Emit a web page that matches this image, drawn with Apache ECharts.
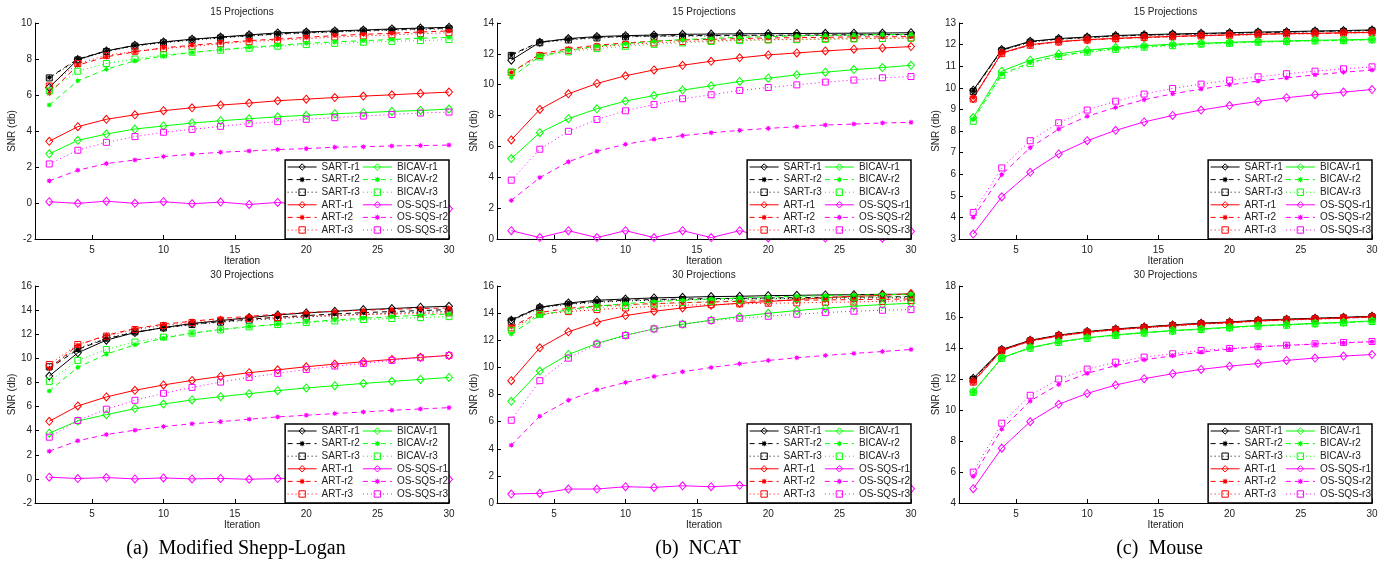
<!DOCTYPE html>
<html><head><meta charset="utf-8">
<script src="https://cdn.jsdelivr.net/npm/echarts@6/dist/echarts.min.js"></script>
<style>html,body{margin:0;padding:0;background:#fff}#c{width:1391px;height:561px}</style>
</head><body><div id="c"></div><script>
// ---------------- DATA ----------------
const iterations = [2,4,6,8,10,12,14,16,18,20,22,24,26,28,30];
const xTicks = [5,10,15,20,25,30];
const methodNames = ['SART','ART','BICAV','OS-SQS'];
const runSuffixes = ['r1','r2','r3'];
const panelTitles = ['15 Projections','15 Projections','15 Projections','30 Projections','30 Projections','30 Projections'];
const captions = ['(a)\u2002Modified Shepp-Logan','(b)\u2002NCAT','(c)\u2002Mouse'];
const yMins = [-2, 0, 3, -2, 0, 4];
const yMaxs = [10, 14, 13, 16, 16, 18];
const yIntervals = [2, 2, 1, 2, 2, 2];

// Modified Shepp-Logan, 15 projections
const SL15_SART_r1 = [6.42,7.97,8.45,8.76,8.95,9.10,9.22,9.34,9.45,9.50,9.56,9.61,9.67,9.72,9.76];
const SL15_SART_r2 = [6.97,8.00,8.45,8.75,8.93,9.08,9.20,9.30,9.40,9.47,9.53,9.58,9.63,9.68,9.72];
const SL15_SART_r3 = [6.95,7.95,8.42,8.72,8.90,9.05,9.17,9.28,9.37,9.44,9.50,9.55,9.60,9.64,9.68];
const SL15_ART_r1 = [3.43,4.24,4.65,4.90,5.13,5.29,5.44,5.55,5.68,5.77,5.86,5.94,6.01,6.09,6.16];
const SL15_ART_r2 = [6.09,7.66,8.12,8.40,8.62,8.76,8.90,9.02,9.11,9.20,9.30,9.37,9.43,9.50,9.56];
const SL15_ART_r3 = [6.50,7.75,8.20,8.43,8.58,8.70,8.85,8.97,9.04,9.13,9.22,9.28,9.34,9.41,9.46];
const SL15_BICAV_r1 = [2.73,3.48,3.83,4.11,4.28,4.44,4.57,4.68,4.79,4.87,4.96,5.02,5.09,5.14,5.22];
const SL15_BICAV_r2 = [5.44,6.79,7.43,7.90,8.17,8.36,8.52,8.65,8.76,8.87,8.95,9.02,9.08,9.15,9.20];
const SL15_BICAV_r3 = [6.23,7.32,7.75,8.00,8.23,8.38,8.49,8.60,8.71,8.80,8.87,8.93,8.98,9.02,9.08];
const SL15_OSSQS_r1 = [0.07,-0.02,0.10,-0.02,0.07,-0.04,0.05,-0.08,0.03,-0.10,0.01,-0.14,-0.03,-0.20,-0.32];
const SL15_OSSQS_r2 = [1.23,1.82,2.19,2.39,2.58,2.71,2.82,2.89,2.97,3.02,3.10,3.13,3.17,3.19,3.22];
const SL15_OSSQS_r3 = [2.17,2.93,3.37,3.69,3.93,4.09,4.26,4.41,4.52,4.65,4.74,4.83,4.92,5.00,5.05];

// NCAT, 15 projections
const NC15_SART_r1 = [11.59,12.75,12.99,13.12,13.18,13.22,13.27,13.28,13.30,13.31,13.32,13.33,13.34,13.35,13.37];
const NC15_SART_r2 = [11.95,12.77,12.95,13.07,13.14,13.16,13.18,13.19,13.20,13.21,13.22,13.23,13.24,13.25,13.26];
const NC15_SART_r3 = [11.90,12.72,12.90,13.03,13.10,13.13,13.15,13.16,13.17,13.18,13.19,13.20,13.21,13.22,13.23];
const NC15_ART_r1 = [6.42,8.40,9.41,10.08,10.58,10.96,11.26,11.52,11.74,11.93,12.06,12.19,12.30,12.38,12.47];
const NC15_ART_r2 = [10.79,11.98,12.34,12.56,12.71,12.82,12.90,12.94,12.99,13.03,13.05,13.07,13.10,13.10,13.12];
const NC15_ART_r3 = [10.80,11.90,12.23,12.45,12.60,12.71,12.80,12.84,12.90,12.92,12.95,12.97,12.99,13.00,13.03];
const NC15_BICAV_r1 = [5.21,6.89,7.80,8.44,8.94,9.30,9.65,9.93,10.21,10.42,10.64,10.81,10.98,11.11,11.26];
const NC15_BICAV_r2 = [10.47,11.85,12.23,12.49,12.66,12.82,12.92,13.00,13.07,13.12,13.16,13.20,13.22,13.25,13.27];
const NC15_BICAV_r3 = [10.83,11.80,12.13,12.34,12.49,12.62,12.71,12.80,12.86,12.90,12.92,12.94,12.97,12.99,13.01];
const NC15_OSSQS_r1 = [0.54,0.09,0.54,0.09,0.54,0.09,0.54,0.09,0.54,0.07,0.52,0.06,0.52,0.05,0.50];
const NC15_OSSQS_r2 = [2.50,3.98,5.00,5.69,6.14,6.46,6.70,6.89,7.04,7.17,7.28,7.39,7.45,7.52,7.56];
const NC15_OSSQS_r3 = [3.81,5.82,6.98,7.75,8.31,8.72,9.09,9.35,9.63,9.82,9.99,10.17,10.30,10.45,10.53];

// Mouse, 15 projections
const MO15_SART_r1 = [9.89,11.77,12.15,12.28,12.35,12.42,12.46,12.49,12.52,12.55,12.58,12.60,12.63,12.65,12.68];
const MO15_SART_r2 = [9.86,11.74,12.13,12.26,12.33,12.40,12.44,12.47,12.50,12.53,12.56,12.58,12.61,12.63,12.66];
const MO15_SART_r3 = [9.83,11.72,12.11,12.24,12.31,12.38,12.42,12.45,12.48,12.51,12.54,12.56,12.59,12.61,12.64];
const MO15_ART_r1 = [9.51,11.62,12.00,12.14,12.23,12.29,12.34,12.38,12.42,12.45,12.48,12.51,12.52,12.55,12.57];
const MO15_ART_r2 = [9.55,11.60,11.98,12.13,12.22,12.28,12.33,12.37,12.41,12.44,12.47,12.50,12.51,12.54,12.56];
const MO15_ART_r3 = [9.48,11.58,11.97,12.12,12.21,12.27,12.32,12.36,12.40,12.43,12.46,12.49,12.50,12.53,12.55];
const MO15_BICAV_r1 = [8.62,10.77,11.28,11.57,11.74,11.86,11.95,12.02,12.06,12.11,12.15,12.17,12.20,12.22,12.25];
const MO15_BICAV_r2 = [8.54,10.63,11.17,11.48,11.68,11.82,11.91,11.98,12.05,12.09,12.12,12.15,12.18,12.20,12.23];
const MO15_BICAV_r3 = [8.45,10.58,11.12,11.45,11.65,11.78,11.88,11.95,12.02,12.06,12.11,12.14,12.17,12.18,12.22];
const MO15_OSSQS_r1 = [3.23,4.95,6.09,6.94,7.55,8.03,8.42,8.72,8.97,9.18,9.37,9.54,9.68,9.80,9.92];
const MO15_OSSQS_r2 = [4.00,5.98,7.23,8.09,8.68,9.09,9.45,9.72,9.94,10.14,10.31,10.46,10.60,10.72,10.82];
const MO15_OSSQS_r3 = [4.23,6.29,7.55,8.38,8.97,9.38,9.71,9.97,10.17,10.35,10.51,10.65,10.77,10.88,10.97];

// Modified Shepp-Logan, 30 projections
const SL30_SART_r1 = [8.53,10.46,11.51,12.14,12.55,12.89,13.13,13.38,13.60,13.77,13.90,14.04,14.13,14.24,14.32];
const SL30_SART_r2 = [9.16,10.74,11.62,12.17,12.53,12.83,13.05,13.24,13.41,13.55,13.68,13.79,13.88,13.96,14.04];
const SL30_SART_r3 = [9.30,10.82,11.67,12.20,12.53,12.80,13.00,13.16,13.30,13.44,13.55,13.66,13.74,13.82,13.90];
const SL30_ART_r1 = [4.78,6.05,6.80,7.35,7.79,8.17,8.50,8.81,9.05,9.30,9.52,9.72,9.91,10.08,10.24];
const SL30_ART_r2 = [9.16,11.09,11.92,12.47,12.83,13.08,13.30,13.49,13.66,13.80,13.90,13.99,14.07,14.13,14.18];
const SL30_ART_r3 = [9.49,11.15,11.84,12.39,12.72,12.97,13.16,13.30,13.38,13.49,13.55,13.63,13.68,13.71,13.77];
const SL30_BICAV_r1 = [3.79,4.81,5.33,5.83,6.21,6.55,6.82,7.07,7.32,7.54,7.73,7.92,8.09,8.25,8.42];
const SL30_BICAV_r2 = [7.29,9.25,10.35,11.12,11.67,12.09,12.39,12.64,12.83,13.02,13.19,13.33,13.46,13.57,13.68];
const SL30_BICAV_r3 = [8.09,9.83,10.74,11.35,11.76,12.09,12.36,12.61,12.80,12.97,13.10,13.22,13.30,13.38,13.46];
const SL30_OSSQS_r1 = [0.14,0.03,0.11,0.00,0.08,0.00,0.04,-0.03,0.03,0.00,-0.02,0.02,-0.04,0.00,-0.04];
const SL30_OSSQS_r2 = [2.30,3.16,3.68,4.04,4.34,4.57,4.75,4.95,5.14,5.28,5.42,5.55,5.69,5.80,5.91];
const SL30_OSSQS_r3 = [3.46,4.84,5.78,6.52,7.10,7.59,8.03,8.42,8.75,9.08,9.36,9.58,9.83,10.05,10.24];

// NCAT, 30 projections
const NC30_SART_r1 = [13.48,14.43,14.75,14.95,15.04,15.12,15.17,15.22,15.24,15.29,15.31,15.34,15.36,15.39,15.39];
const NC30_SART_r2 = [13.55,14.43,14.70,14.85,14.95,15.00,15.04,15.07,15.09,15.12,15.14,15.17,15.19,15.19,15.22];
const NC30_SART_r3 = [13.40,14.38,14.65,14.80,14.90,14.95,15.00,15.02,15.04,15.06,15.08,15.10,15.11,15.12,15.14];
const NC30_ART_r1 = [9.02,11.44,12.62,13.33,13.82,14.14,14.38,14.58,14.73,14.85,15.00,15.14,15.24,15.31,15.44];
const NC30_ART_r2 = [12.99,14.04,14.36,14.53,14.63,14.70,14.77,14.82,14.87,14.92,14.95,14.97,15.00,15.02,15.04];
const NC30_ART_r3 = [12.91,13.92,14.11,14.26,14.38,14.50,14.58,14.63,14.68,14.73,14.75,14.80,14.82,14.87,14.92];
const NC30_BICAV_r1 = [7.50,9.73,10.95,11.76,12.37,12.84,13.18,13.48,13.75,13.99,14.19,14.36,14.51,14.63,14.73];
const NC30_BICAV_r2 = [12.47,13.84,14.26,14.51,14.70,14.85,14.95,15.04,15.12,15.19,15.24,15.29,15.34,15.36,15.39];
const NC30_BICAV_r3 = [12.74,13.89,14.21,14.41,14.55,14.68,14.77,14.87,14.95,15.02,15.07,15.12,15.17,15.22,15.26];
const NC30_OSSQS_r1 = [0.66,0.71,1.03,1.03,1.20,1.15,1.27,1.20,1.30,1.22,1.30,1.20,1.28,1.15,1.05];
const NC30_OSSQS_r2 = [4.26,6.40,7.57,8.35,8.89,9.33,9.68,9.99,10.27,10.51,10.71,10.88,11.03,11.17,11.32];
const NC30_OSSQS_r3 = [6.10,9.02,10.68,11.71,12.35,12.84,13.18,13.45,13.62,13.77,13.92,14.04,14.14,14.21,14.26];

// Mouse, 30 projections
const MO30_SART_r1 = [12.04,13.90,14.50,14.83,15.06,15.23,15.36,15.49,15.60,15.68,15.79,15.86,15.92,15.98,16.05];
const MO30_SART_r2 = [12.00,13.88,14.48,14.81,15.04,15.21,15.34,15.47,15.58,15.66,15.77,15.84,15.90,15.96,16.03];
const MO30_SART_r3 = [11.97,13.86,14.46,14.79,15.02,15.19,15.32,15.45,15.56,15.64,15.75,15.82,15.88,15.94,16.01];
const MO30_ART_r1 = [11.85,13.85,14.47,14.80,15.03,15.20,15.33,15.46,15.57,15.65,15.76,15.83,15.89,15.95,16.02];
const MO30_ART_r2 = [11.82,13.83,14.45,14.78,15.01,15.18,15.31,15.44,15.55,15.63,15.74,15.81,15.87,15.93,16.00];
const MO30_ART_r3 = [11.80,13.81,14.43,14.76,14.99,15.16,15.29,15.42,15.53,15.61,15.72,15.79,15.85,15.91,15.98];
const MO30_BICAV_r1 = [11.18,13.37,14.03,14.40,14.66,14.85,15.00,15.13,15.23,15.34,15.45,15.51,15.60,15.66,15.75];
const MO30_BICAV_r2 = [11.16,13.35,14.01,14.38,14.64,14.83,14.98,15.11,15.21,15.32,15.43,15.49,15.58,15.64,15.73];
const MO30_BICAV_r3 = [11.14,13.33,13.99,14.36,14.62,14.81,14.96,15.09,15.19,15.30,15.41,15.47,15.56,15.62,15.71];
const MO30_OSSQS_r1 = [4.92,7.54,9.25,10.37,11.07,11.61,12.02,12.34,12.62,12.83,13.00,13.20,13.35,13.48,13.58];
const MO30_OSSQS_r2 = [5.71,8.76,10.58,11.65,12.36,12.87,13.24,13.50,13.73,13.93,14.08,14.16,14.25,14.33,14.40];
const MO30_OSSQS_r3 = [5.99,9.15,10.95,12.00,12.64,13.09,13.41,13.63,13.84,13.97,14.08,14.18,14.27,14.36,14.42];

const panelData = [
  [[SL15_SART_r1,SL15_SART_r2,SL15_SART_r3],[SL15_ART_r1,SL15_ART_r2,SL15_ART_r3],[SL15_BICAV_r1,SL15_BICAV_r2,SL15_BICAV_r3],[SL15_OSSQS_r1,SL15_OSSQS_r2,SL15_OSSQS_r3]],
  [[NC15_SART_r1,NC15_SART_r2,NC15_SART_r3],[NC15_ART_r1,NC15_ART_r2,NC15_ART_r3],[NC15_BICAV_r1,NC15_BICAV_r2,NC15_BICAV_r3],[NC15_OSSQS_r1,NC15_OSSQS_r2,NC15_OSSQS_r3]],
  [[MO15_SART_r1,MO15_SART_r2,MO15_SART_r3],[MO15_ART_r1,MO15_ART_r2,MO15_ART_r3],[MO15_BICAV_r1,MO15_BICAV_r2,MO15_BICAV_r3],[MO15_OSSQS_r1,MO15_OSSQS_r2,MO15_OSSQS_r3]],
  [[SL30_SART_r1,SL30_SART_r2,SL30_SART_r3],[SL30_ART_r1,SL30_ART_r2,SL30_ART_r3],[SL30_BICAV_r1,SL30_BICAV_r2,SL30_BICAV_r3],[SL30_OSSQS_r1,SL30_OSSQS_r2,SL30_OSSQS_r3]],
  [[NC30_SART_r1,NC30_SART_r2,NC30_SART_r3],[NC30_ART_r1,NC30_ART_r2,NC30_ART_r3],[NC30_BICAV_r1,NC30_BICAV_r2,NC30_BICAV_r3],[NC30_OSSQS_r1,NC30_OSSQS_r2,NC30_OSSQS_r3]],
  [[MO30_SART_r1,MO30_SART_r2,MO30_SART_r3],[MO30_ART_r1,MO30_ART_r2,MO30_ART_r3],[MO30_BICAV_r1,MO30_BICAV_r2,MO30_BICAV_r3],[MO30_OSSQS_r1,MO30_OSSQS_r2,MO30_OSSQS_r3]]
];

// ---------------- STYLE / LAYOUT ----------------
const FONT = 'Liberation Sans';
const methodColors = ['#000000','#ff0000','#00ff00','#ff00ff'];
const grids = [
  {left:35, top:23, width:414, height:216},
  {left:497, top:23, width:414, height:216},
  {left:959, top:23, width:413, height:216},
  {left:35, top:286, width:414, height:217},
  {left:497, top:286, width:414, height:217},
  {left:959, top:286, width:413, height:217}
];
function starPath(){
  const pts=[];
  for(let i=0;i<16;i++){
    const a=Math.PI*i/8-Math.PI/2, r=(i%2===0)?1:0.55;
    pts.push((r*Math.cos(a)).toFixed(3)+' '+(r*Math.sin(a)).toFixed(3));
  }
  return 'path://M'+pts.join(' L')+' Z';
}
const STAR = starPath();
const HOLLOW = 'rgba(255,255,255,0)';
const runStyles = [
  {symbol:'diamond', size:[7,8], dash:'solid', hollow:true},
  {symbol:STAR, size:6, dash:[5,4], hollow:false},
  {symbol:'rect', size:6, dash:[1,3], hollow:true}
];
function itemStyleFor(r, c){
  return runStyles[r].hollow ? {color:HOLLOW, borderColor:c, borderWidth:1} : {color:c, borderColor:c, borderWidth:0};
}

const series = [];
panelData.forEach((panel, p) => {
  panel.forEach((runs, m) => {
    runs.forEach((vals, r) => {
      const st = runStyles[r], c = methodColors[m];
      series.push({
        type:'line', name: methodNames[m]+'-'+runSuffixes[r],
        xAxisIndex:p, yAxisIndex:p,
        data: iterations.map((x,j)=>[x, vals[j]]),
        symbol: st.symbol, symbolSize: st.size, showSymbol:true,
        lineStyle:{color:c, width:1, type:st.dash},
        itemStyle: itemStyleFor(r, c),
        emphasis:{disabled:true}, silent:true, animation:false, z:2
      });
    });
  });
});

const legendItems = [];
methodNames.forEach((m, mi) => runSuffixes.forEach((r, ri) => {
  const c = methodColors[mi];
  legendItems.push({
    name: m+'-'+r,
    itemStyle: itemStyleFor(ri, c),
    lineStyle: {color:c, width:1, type:runStyles[ri].dash}
  });
}));

const axisText = {fontFamily:FONT, fontSize:10, color:'#222'};
const option = {
  backgroundColor:'#fff',
  animation:false,
  grid: grids.map(g => Object.assign({containLabel:false}, g)),
  xAxis: grids.map((g,i) => ({
    type:'value', gridIndex:i, min:1, max:30,
    axisLine:{show:true, onZero:false, lineStyle:{color:'#000', width:1}},
    axisTick:{show:true, inside:true, length:4, customValues:xTicks, lineStyle:{color:'#000'}},
    axisLabel:Object.assign({customValues:xTicks, margin:6}, axisText),
    splitLine:{show:false},
    name:'Iteration', nameLocation:'middle', nameGap:13,
    nameTextStyle:axisText
  })),
  yAxis: grids.map((g,i) => ({
    type:'value', gridIndex:i, min:yMins[i], max:yMaxs[i], interval:yIntervals[i],
    axisLine:{show:true, onZero:false, lineStyle:{color:'#000', width:1}},
    axisTick:{show:true, inside:true, length:4, lineStyle:{color:'#000'}},
    axisLabel:Object.assign({margin:3}, axisText),
    splitLine:{show:false},
    name:'SNR (db)', nameLocation:'middle', nameGap:18, nameRotate:90,
    nameTextStyle:axisText
  })),
  title: grids.map((g,i) => ({
    text: panelTitles[i], left: g.left + g.width/2, top: g.top - 16, textAlign:'center', padding:0,
    textStyle:{fontFamily:FONT, fontSize:10, fontWeight:'normal', color:'#222'}
  })).concat(captions.map((t,i) => ({
    text:t, left: grids[i].left + grids[i].width/2 - 6, top: 539, textAlign:'center', padding:0,
    textStyle:{fontFamily:'Liberation Serif', fontSize:20, fontWeight:'normal', color:'#000'}
  }))),
  legend: grids.map((g,i) => ({
    data: legendItems, orient:'vertical',
    right: 1391 - (g.left + g.width), bottom: 561 - (g.top + g.height),
    height: 75, itemWidth:29, itemHeight:8, itemGap:2.6,
    padding:[2,1,4,2],
    borderColor:'#000', borderWidth:1.5, backgroundColor:'#fff',
    itemStyle:{borderWidth:1},
    lineStyle:{width:1},
    textStyle:{fontFamily:FONT, fontSize:10, lineHeight:10, color:'#222'},
    selectedMode:false, z:10
  })),
  series: series
};
const chart = echarts.init(document.getElementById('c'), null, {renderer:'canvas'});
chart.setOption(option);
</script></body></html>
